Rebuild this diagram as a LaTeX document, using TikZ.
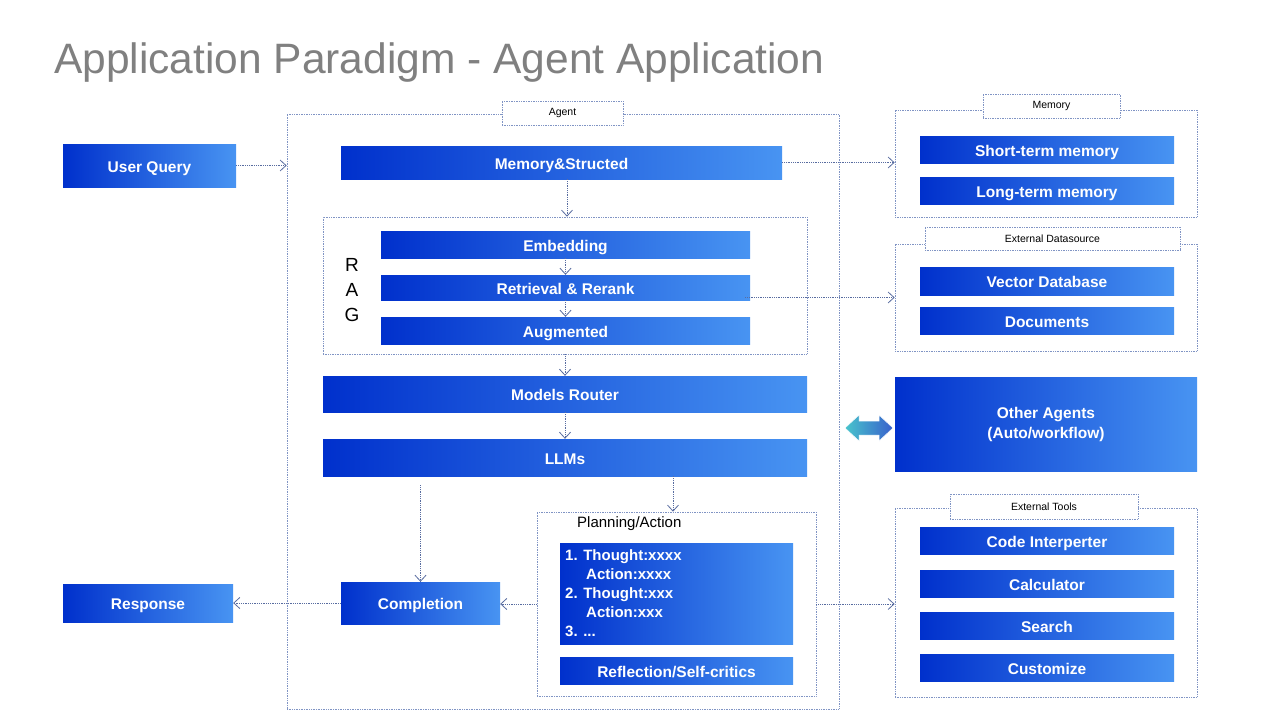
\documentclass[tikz,border=0pt]{standalone}
\usepackage{fontspec}
\setmainfont{Liberation Sans}
\usetikzlibrary{arrows.meta,calc}
\definecolor{gL}{RGB}{0,48,204}
\definecolor{gR}{RGB}{72,148,242}
\definecolor{grpline}{RGB}{128,148,196}
\definecolor{connc}{RGB}{88,108,160}
\definecolor{titlec}{RGB}{128,128,128}
\definecolor{arrL}{RGB}{72,196,204}
\definecolor{arrR}{RGB}{56,96,204}
\tikzset{
  gbox/.style={rectangle, inner sep=0pt, left color=gL, right color=gR, draw=none,
    text=white, font=\fontsize{15.5}{18}\selectfont\bfseries, align=center,
    text height=13pt, text depth=0pt},
  grp/.style={rectangle, inner sep=0pt, draw=grpline, line width=0.7pt, densely dotted},
  lbl/.style={rectangle, inner sep=0pt, draw=grpline, line width=0.7pt, densely dotted, fill=white,
    font=\fontsize{10.5}{12}\selectfont},
  conn/.style={draw=connc, line width=0.8pt, densely dotted,
    -{Straight Barb[length=6pt,width=11pt,line width=0.8pt]}},
}
\begin{document}
\begin{tikzpicture}[x=1pt,y=-1pt]
\useasboundingbox[fill=white] (0,0) rectangle (1280,720);
% title
\node[anchor=base west, inner sep=0pt, text=titlec, font=\fontsize{42.5}{46}\selectfont] (title) at (54,73) {Application Paradigm - Agent Application};

% left column
\node[gbox, minimum width=173pt, minimum height=43pt] (uq) at (149.5,165.5) {User Query};
\node[gbox, minimum width=170pt, minimum height=38pt] (resp) at (148,603) {Response};

% agent group
\node[grp, minimum width=552pt, minimum height=595pt] (agent) at (563,411.5) {};
\node[lbl, minimum width=121pt, minimum height=24pt] (agentlbl) at (562.5,113) {Agent};

\node[gbox, minimum width=441pt, minimum height=33pt] (mem) at (561.5,162.5) {Memory\&Structed};

\node[grp, minimum width=484pt, minimum height=137pt] (rag) at (565,285.5) {};
\node[gbox, minimum width=369pt, minimum height=27pt] (emb) at (565.5,244.5) {Embedding};
\node[gbox, minimum width=369pt, minimum height=25pt] (ret) at (565.5,287.5) {Retrieval \& Rerank};
\node[gbox, minimum width=369pt, minimum height=27pt] (aug) at (565.5,330.5) {Augmented};
\node[inner sep=0pt, align=center, font=\fontsize{19}{25}\selectfont] (ragtxt) at (352,290) {R\\A\\G};

\node[gbox, minimum width=484pt, minimum height=36pt] (router) at (565,394) {Models Router};
\node[gbox, minimum width=484pt, minimum height=37pt] (llms) at (565,457.5) {LLMs};

\node[gbox, minimum width=159pt, minimum height=42pt] (compl) at (420.5,603) {Completion};

\node[grp, minimum width=279pt, minimum height=184pt] (plan) at (676.5,604) {};
\node[anchor=west, inner sep=0pt, font=\fontsize{15}{18}\selectfont] (planlbl) at (577,524) {Planning/Action};
\node[gbox, minimum width=233pt, minimum height=101pt, text height=, text depth=] (thought) at (676.5,593.5) {};
\node[anchor=north west, inner sep=0pt, text=white, align=left,
  font=\fontsize{15}{19}\selectfont\bfseries] (thoughttxt) at (565,549)
  {1. Thought:xxxx\\\hspace*{21pt}Action:xxxx\\2. Thought:xxx\\\hspace*{21pt}Action:xxx\\3. ...};
\node[gbox, minimum width=233pt, minimum height=27pt] (reflect) at (676.5,670.5) {Reflection/Self-critics};

% memory group
\node[grp, minimum width=302pt, minimum height=107pt] (memgrp) at (1046,163.5) {};
\node[lbl, minimum width=137pt, minimum height=24pt] (memlbl) at (1051.5,106) {Memory};
\node[gbox, minimum width=254pt, minimum height=27pt] (stm) at (1047,149.5) {Short-term memory};
\node[gbox, minimum width=254pt, minimum height=27pt] (ltm) at (1047,190.5) {Long-term memory};

% external datasource
\node[grp, minimum width=302pt, minimum height=107pt] (dsgrp) at (1046,297.5) {};
\node[lbl, minimum width=255pt, minimum height=23pt] (dslbl) at (1052.5,238.5) {External Datasource};
\node[gbox, minimum width=254pt, minimum height=28pt] (vdb) at (1047,281) {Vector Database};
\node[gbox, minimum width=254pt, minimum height=27pt] (docs) at (1047,320.5) {Documents};

% other agents
\node[gbox, minimum width=302pt, minimum height=94pt, text height=, text depth=,
  font=\fontsize{15.5}{20}\selectfont\bfseries] (other) at (1046,424) {Other Agents\\(Auto/workflow)};
\shade[left color=arrL, right color=arrR, draw=white, line width=0.5pt]
  (845,428) -- (859,415) -- (859,421) -- (879,421) -- (879,415) -- (893,428)
  -- (879,441) -- (879,435) -- (859,435) -- (859,441) -- cycle;

% external tools
\node[grp, minimum width=302pt, minimum height=189pt] (tools) at (1046,602.5) {};
\node[lbl, minimum width=188pt, minimum height=25pt] (toolslbl) at (1044,506.5) {External Tools};
\node[gbox, minimum width=254pt, minimum height=27pt] (code) at (1047,540.5) {Code Interperter};
\node[gbox, minimum width=254pt, minimum height=27pt] (calc) at (1047,583.5) {Calculator};
\node[gbox, minimum width=254pt, minimum height=27pt] (search) at (1047,625.5) {Search};
\node[gbox, minimum width=254pt, minimum height=27pt] (cust) at (1047,667.5) {Customize};

% connectors
\draw[conn] (uq.east) -- (uq.east -| agent.west);
\draw[conn] (mem.east) -- (mem.east -| memgrp.west);
\draw[conn] ([xshift=5.5pt]mem.south) -- ([xshift=5.5pt]mem.south |- rag.north);
\draw[conn] (emb.south) -- (ret.north);
\draw[conn] (ret.south) -- (aug.north);
\draw[conn] ([xshift=-5pt]ret.east |- dsgrp.west) -- (dsgrp.west);
\draw[conn] (rag.south) -- (router.north);
\draw[conn] (router.south) -- (llms.north);
\draw[conn] ([xshift=-3.5pt]llms.south -| plan.north) -- ([xshift=-3.5pt]plan.north);
\draw[conn] ([yshift=-9pt]llms.south -| compl.north) -- (compl.north);
\draw[conn] (plan.west) -- (plan.west -| compl.east);
\draw[conn] (compl.west) -- (compl.west -| resp.east);
\draw[conn] (plan.east) -- (plan.east -| tools.west);
\end{tikzpicture}
\end{document}
